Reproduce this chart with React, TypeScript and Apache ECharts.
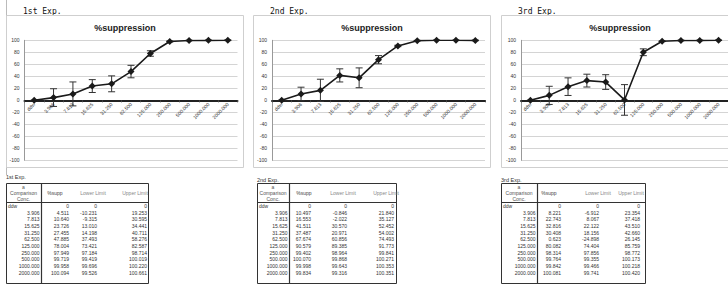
import React, { useEffect, useRef } from "react";
import * as echarts from "echarts";

const categories = ["ddw", "3.906", "7.813", "15.625", "31.250", "62.500", "125.000", "250.000", "500.000", "1000.000", "2000.000"];

const supp1 = [0, 4.511, 10.64, 23.726, 27.455, 47.885, 78.004, 97.949, 99.719, 99.958, 100.094];
const lower1 = [0, -10.231, -9.315, 13.01, 14.198, 37.493, 73.421, 97.184, 99.419, 99.696, 99.526];
const upper1 = [0, 19.253, 30.595, 34.441, 40.711, 58.276, 82.587, 98.714, 100.019, 100.22, 100.661];

const supp2 = [0, 10.497, 16.553, 41.511, 37.487, 67.674, 90.579, 99.402, 100.07, 99.998, 99.834];
const lower2 = [0, -0.846, -2.022, 30.57, 20.971, 60.856, 89.385, 98.964, 99.868, 99.643, 99.316];
const upper2 = [0, 21.84, 35.127, 52.452, 54.002, 74.493, 91.773, 99.841, 100.271, 100.353, 100.351];

const supp3 = [0, 8.221, 22.743, 32.816, 30.408, 0.623, 80.082, 98.314, 99.764, 99.842, 100.081];
const lower3 = [0, -6.912, 8.067, 22.122, 18.156, -24.898, 74.404, 97.856, 99.355, 99.466, 99.741];
const upper3 = [0, 23.354, 37.418, 43.51, 42.66, 26.145, 85.759, 98.772, 100.173, 100.218, 100.42];

const expTitles = ["1st Exp.", "2nd Exp.", "3rd Exp."];
const chartTitle = "%suppression";
const tableHeaders = ["%supp", "Lower Limit", "Upper Limit"];
const concHeader = ["a", "Comparison", "Conc."];

const FONT = "Liberation Sans, Arial, sans-serif";

export default function App() {
  const ref = useRef<HTMLDivElement>(null);
  useEffect(() => {
    if (!ref.current) return;
    const chart = echarts.init(ref.current, undefined, { renderer: "svg" });
    const exps = [
      { supp: supp1, lower: lower1, upper: upper1 },
      { supp: supp2, lower: lower2, upper: upper2 },
      { supp: supp3, lower: lower3, upper: upper3 },
    ];
    const boxes = [6, 253, 501];
    const gridLefts = [24.5, 272, 521];
    const gridWidths = [213, 213, 209];

    const grids: any[] = [];
    const xAxes: any[] = [];
    const yAxes: any[] = [];
    const series: any[] = [];
    const graphics: any[] = [];

    exps.forEach((e, i) => {
      grids.push({ left: gridLefts[i], top: 40.3, width: gridWidths[i], height: 120, containLabel: false });
      xAxes.push({
        type: "category",
        gridIndex: i,
        data: categories,
        boundaryGap: true,
        position: "bottom",
        offset: -60,
        axisLine: { onZero: false, lineStyle: { color: "#222", width: 2 } },
        axisTick: { show: true, length: 2, lineStyle: { color: "#444" } },
        axisLabel: { rotate: 45, fontSize: 5, color: "#333", fontFamily: FONT, margin: 3, interval: 0 },
        splitLine: { show: false },
      });
      yAxes.push({
        type: "value",
        gridIndex: i,
        min: -100,
        max: 100,
        interval: 20,
        axisLine: { show: true, lineStyle: { color: "#999", width: 1 } },
        axisTick: { show: false },
        axisLabel: { fontSize: 5, color: "#333", fontFamily: FONT, margin: 5 },
        splitLine: { show: true, lineStyle: { color: "#d4d4d4", width: 1 } },
      });
      series.push({
        type: "custom",
        xAxisIndex: i,
        yAxisIndex: i,
        data: e.lower.map((l, k) => [k, l, e.upper[k]]),
        encode: { x: 0, y: [1, 2] },
        z: 3,
        renderItem: (params: any, api: any) => {
          const x = api.value(0);
          const lo = api.coord([x, api.value(1)]);
          const hi = api.coord([x, api.value(2)]);
          const hw = 3.5;
          const st = { stroke: "#333", lineWidth: 1 };
          return {
            type: "group",
            children: [
              { type: "line", shape: { x1: lo[0], y1: lo[1], x2: hi[0], y2: hi[1] }, style: st },
              { type: "line", shape: { x1: lo[0] - hw, y1: lo[1], x2: lo[0] + hw, y2: lo[1] }, style: st },
              { type: "line", shape: { x1: hi[0] - hw, y1: hi[1], x2: hi[0] + hw, y2: hi[1] }, style: st },
            ],
          };
        },
      });
      series.push({
        type: "line",
        xAxisIndex: i,
        yAxisIndex: i,
        data: e.supp,
        symbol: "diamond",
        symbolSize: 7,
        z: 4,
        itemStyle: { color: "#1a1a1a" },
        lineStyle: { color: "#1a1a1a", width: 1.6 },
      });

      const bx = boxes[i];
      graphics.push({ type: "rect", shape: { x: bx + 0.5, y: 15.5, width: 237, height: 152 }, style: { fill: "none", stroke: "#cfcfcf", lineWidth: 1 }, z: 1 });
      graphics.push({ type: "text", x: bx + 17, y: 11, style: { text: expTitles[i], fontSize: 8, fontFamily: "DejaVu Sans Mono, monospace", fill: "#111", align: "left", verticalAlign: "middle" } });
      graphics.push({ type: "text", x: bx + 119, y: 28, style: { text: chartTitle, fontSize: 9, fontWeight: "bold", fontFamily: FONT, fill: "#222", align: "center", verticalAlign: "middle" } });
    });

    graphics.push({ type: "line", shape: { x1: 6.5, y1: 0, x2: 6.5, y2: 175 }, style: { stroke: "#bbb", lineWidth: 1 } });

    // tables
    const tables = [
      { x: 6, w: 142, sep: 35, cols: [63, 91, 141], heads: [49, 87, 129], title: "1st Exp.", ty: 177 },
      { x: 257, w: 139, sep: 32, cols: [54, 90, 137], heads: [47, 86, 129], title: "2nd Exp.", ty: 179.5 },
      { x: 501, w: 144, sep: 36, cols: [60, 98, 139], heads: [48, 97, 130], title: "3rd Exp.", ty: 179.5 },
    ];
    const top = 183;
    const headBottom = 202;
    const rowY0 = 206;
    const rowStep = 6.65;
    const bottom = 283;
    tables.forEach((t, i) => {
      const e = exps[i];
      const s = { stroke: "#333", lineWidth: 1 };
      graphics.push({ type: "text", x: t.x, y: t.ty, style: { text: t.title, fontSize: 5.5, fontFamily: FONT, fill: "#333", align: "left", verticalAlign: "middle" } });
      graphics.push({ type: "rect", shape: { x: t.x + 0.5, y: top + 0.5, width: t.w, height: bottom - top }, style: { fill: "none", stroke: "#333", lineWidth: 1 } });
      graphics.push({ type: "line", shape: { x1: t.x, y1: headBottom + 0.5, x2: t.x + t.w, y2: headBottom + 0.5 }, style: s });
      graphics.push({ type: "line", shape: { x1: t.x + t.sep + 0.5, y1: top, x2: t.x + t.sep + 0.5, y2: bottom }, style: { stroke: "#333", lineWidth: 1.2 } });
      concHeader.forEach((h, k) => {
        graphics.push({ type: "text", x: t.x + t.sep / 2, y: 187 + k * 6, style: { text: h, fontSize: 5, fontFamily: FONT, fill: "#555", align: "center", verticalAlign: "middle" } });
      });
      tableHeaders.forEach((h, k) => {
        graphics.push({ type: "text", x: t.x + t.heads[k], y: 193, style: { text: h, fontSize: 5, fontFamily: FONT, fill: k === 0 ? "#444" : "#888", align: "center", verticalAlign: "middle" } });
      });
      categories.forEach((c, r) => {
        const y = rowY0 + r * rowStep;
        const fmt = (v: number) => (v === 0 && r === 0 ? "0" : v.toFixed(3));
        graphics.push({ type: "text", x: r === 0 ? t.x + 2 : t.x + t.sep - 1.5, y, style: { text: c, fontSize: 5, fontFamily: FONT, fill: "#333", align: r === 0 ? "left" : "right", verticalAlign: "middle" } });
        [e.supp[r], e.lower[r], e.upper[r]].forEach((v, k) => {
          graphics.push({ type: "text", x: t.x + t.cols[k], y, style: { text: fmt(v), fontSize: 5, fontFamily: FONT, fill: "#333", align: "right", verticalAlign: "middle" } });
        });
      });
    });

    chart.setOption({
      animation: false,
      backgroundColor: "#ffffff",
      grid: grids,
      xAxis: xAxes,
      yAxis: yAxes,
      series,
      graphic: graphics,
    });
    return () => chart.dispose();
  }, []);
  return <div ref={ref} style={{ position: "fixed", left: 0, top: 0, width: 728, height: 288 }} />;
}
